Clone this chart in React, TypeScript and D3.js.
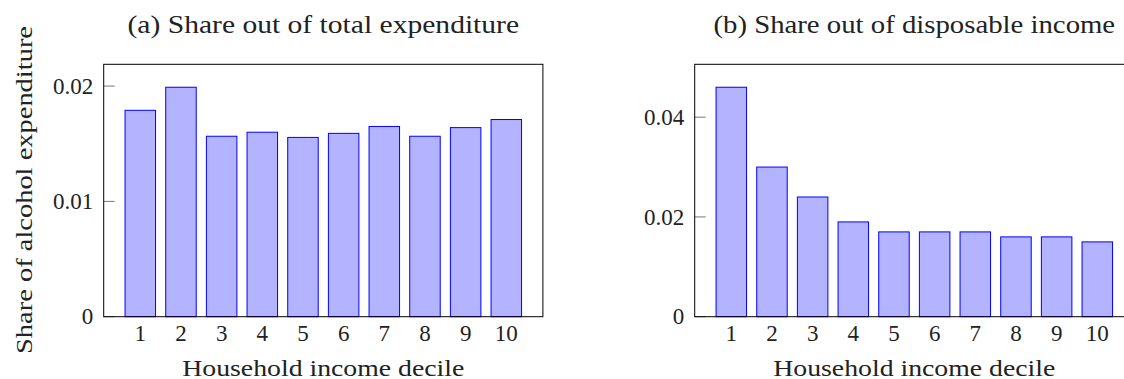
import React from "react";
import * as d3 from "d3";

const deciles = [1, 2, 3, 4, 5, 6, 7, 8, 9, 10];
const shareOfExpenditure = [0.0179, 0.0199, 0.01565, 0.016, 0.01555, 0.0159, 0.0165, 0.01565, 0.0164, 0.0171];
const shareOfIncome = [0.046, 0.03, 0.024, 0.019, 0.017, 0.017, 0.017, 0.016, 0.016, 0.015];
const ticksA = [0, 0.01, 0.02];
const ticksB = [0, 0.02, 0.04];
const tickLabelsA = ["0", "0.01", "0.02"];
const tickLabelsB = ["0", "0.02", "0.04"];

const top = 64.3;
const bottom = 316.7;
const plotW = 439.2;
const barW = 30.5;

type PanelProps = {
  left: number;
  title: string;
  titleLen: number;
  values: number[];
  ticks: number[];
  tickLabels: string[];
};

const Panel = ({ left, title, titleLen, values, ticks, tickLabels }: PanelProps) => {
  const x = d3.scaleLinear().domain([0.1, 10.9]).range([left, left + plotW]);
  const y = d3.scaleLinear().domain([0, (d3.max(values) as number) * 1.1]).range([bottom, top]);
  const cx = left + plotW / 2;

  return (
    <g>
      <text x={cx} y={33} textAnchor="middle" fontSize={25}
        textLength={titleLen} lengthAdjust="spacingAndGlyphs">{title}</text>

      {values.map((v, i) => (
        <rect key={i} x={x(deciles[i]) - barW / 2} y={y(v)} width={barW} height={y(0) - y(v)}
          fill="#b3b3ff" stroke="#0000ff" strokeWidth={1} />
      ))}

      {ticks.map((t, i) => (
        <g key={i}>
          <line x1={left} x2={left + 11} y1={y(t)} y2={y(t)} stroke="#777" strokeWidth={1} />
          <text x={left - 10.5} y={y(t) + 7.6} textAnchor="end" fontSize={23}>{tickLabels[i]}</text>
        </g>
      ))}

      {deciles.map((d) => (
        <text key={d} x={x(d)} y={340.5} textAnchor="middle" fontSize={23}>{d}</text>
      ))}

      <rect x={left} y={top} width={plotW} height={bottom - top} fill="none" stroke="#000" strokeWidth={1} />

      <text x={cx} y={375.5} textAnchor="middle" fontSize={24}
        textLength={282} lengthAdjust="spacingAndGlyphs">Household income decile</text>
    </g>
  );
};

export default function App() {
  return (
    <svg width={1124} height={379}
      style={{ position: "absolute", left: 0, top: 0, background: "#fff", fontFamily: "Liberation Serif", fill: "#222" }}>
      <style>{`text { font-family: "Liberation Serif"; fill: #222; }`}</style>
      <Panel left={103.7} title="(a) Share out of total expenditure" titleLen={391.6}
        values={shareOfExpenditure} ticks={ticksA} tickLabels={tickLabelsA} />
      <Panel left={694.7} title="(b) Share out of disposable income" titleLen={401.7}
        values={shareOfIncome} ticks={ticksB} tickLabels={tickLabelsB} />
      <text transform={`translate(32.3,190) rotate(-90)`} textAnchor="middle" fontSize={24}
        textLength={328} lengthAdjust="spacingAndGlyphs">
        Share of alcohol expenditure
      </text>
    </svg>
  );
}
